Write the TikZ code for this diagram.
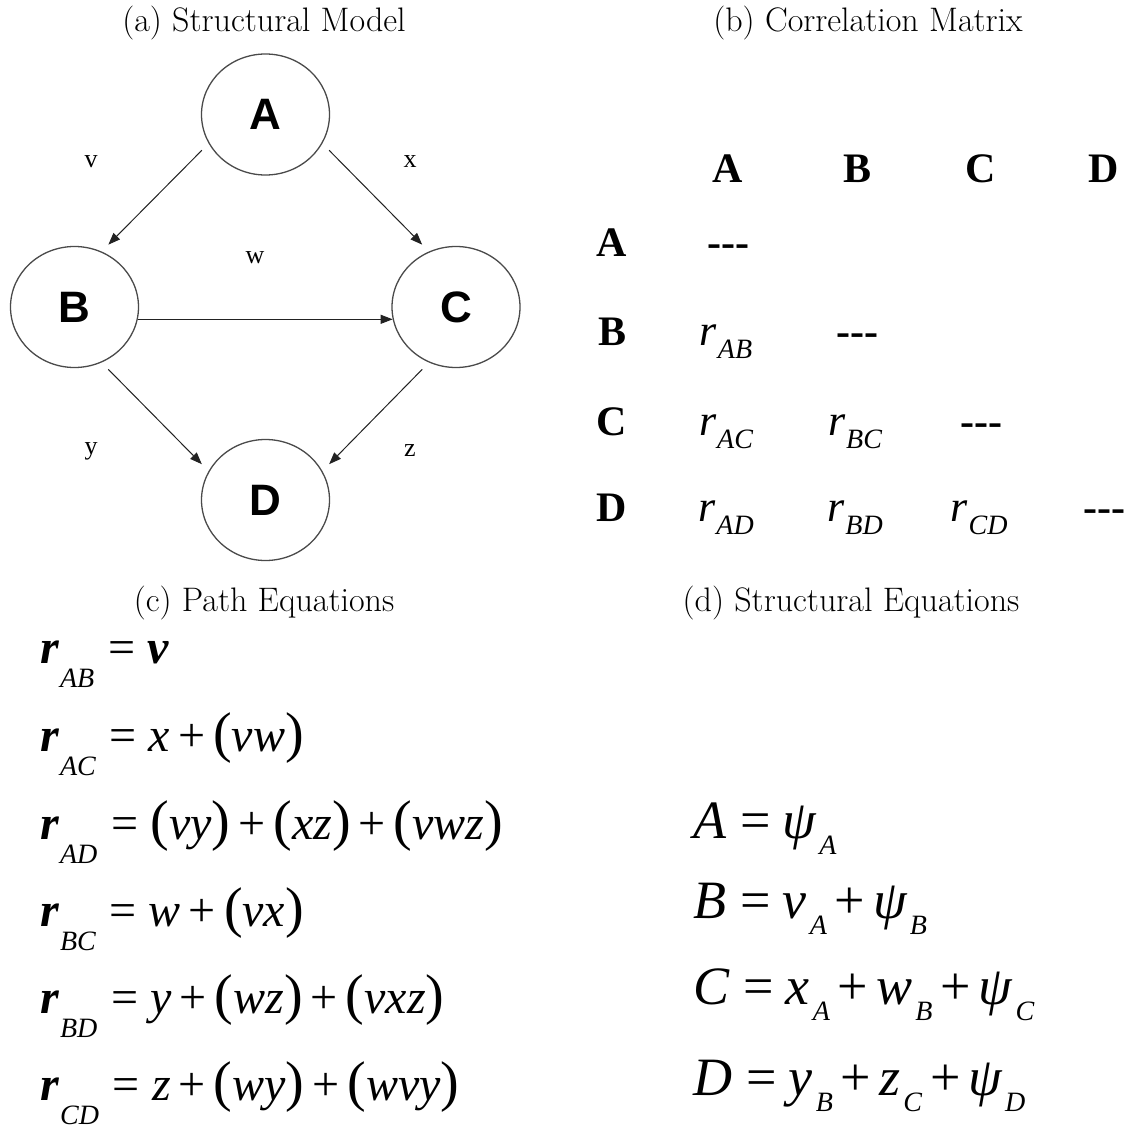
\documentclass[tikz,border=0pt]{standalone}
\usepackage{fontspec}
\usepackage{tikz}
\usetikzlibrary{shapes.geometric,arrows.meta,positioning}
\newfontfamily\timesf{Liberation Serif}[BoldFont={Liberation Serif Bold},
  ItalicFont={Liberation Serif Italic}, BoldItalicFont={Liberation Serif Bold Italic}]
\newfontfamily\arialf{Liberation Sans}[BoldFont={Liberation Sans Bold}]
\definecolor{ringcol}{HTML}{4A4A4A}
\definecolor{linkcol}{HTML}{222222}

% r with a low subscript (path equations / matrix)
\newcommand{\rcoef}[1]{{\bfseries r}\kern0.5pt\raisebox{-12pt}{\fontsize{14}{14}\selectfont #1}}
\newcommand{\rcell}[1]{r\kern0.5pt\raisebox{-6.5pt}{\fontsize{14}{14}\selectfont #1}}
\newcommand{\svar}[2]{#1\kern1.5pt\raisebox{-8pt}{\fontsize{14}{14}\selectfont #2}}
\newcommand{\eqsign}{\hspace{7pt}{\upshape=}\hspace{6pt}}
\newcommand{\plussign}{\hspace{4pt}{\upshape+}\hspace{4pt}}
\newcommand{\lpar}{{\upshape\fontsize{28}{28}\selectfont(}}
\newcommand{\rpar}{{\upshape\fontsize{28}{28}\selectfont)}}
\newcommand{\nodash}{{\bfseries -{}-{}-}}

\begin{document}
\begin{tikzpicture}[x=0.5pt, y=-0.5pt,
  var/.style={ellipse, draw=ringcol, line width=0.65pt, minimum width=64pt,
              minimum height=60.5pt, inner sep=0pt,
              font=\arialf\bfseries\fontsize{22}{22}\selectfont},
  link/.style={-{Triangle[length=6pt,width=4.5pt]}, line width=0.5pt,
               color=linkcol, shorten >=4.8pt, shorten <=4.8pt},
  coef/.style={font=\timesf\fontsize{13}{13}\selectfont},
  subtitle/.style={anchor=base, inner sep=0pt, font=\fontsize{17}{17}\selectfont},
  head/.style={anchor=base, inner sep=0pt, font=\timesf\bfseries\fontsize{21}{21}\selectfont},
  cell/.style={anchor=base, inner sep=0pt, font=\timesf\itshape\fontsize{22}{22}\selectfont},
  peq/.style={anchor=base west, inner sep=0pt, font=\timesf\itshape\fontsize{24}{24}\selectfont},
  seq/.style={anchor=base west, inner sep=0pt, font=\timesf\itshape\fontsize{27}{27}\selectfont}
]
  \path[use as bounding box] (0,0) rectangle (1139,1129);

  % (a) structural model
  \node[subtitle] (capa) at (264,32) {(a) Structural Model};
  \node[var] (A) at (265.5,114.5) {A};
  \node[var] (B) at (74.5,307) {B};
  \node[var] (C) at (456,307) {C};
  \node[var] (D) at (265.5,500) {D};

  \draw[link] (A.207) -- (B.64);
  \draw[link] (A.-27) -- (C.116);
  \draw[link] (B.-64) -- (D.153);
  \draw[link] (C.244) -- (D.27);
  \draw[link, shorten >=0pt, shorten <=0pt] (B.-11) -- (C.191);

  \node[coef] (lv) at (91,162) {v};
  \node[coef] (lx) at (410,162) {x};
  \node[coef] (lw) at (255,258) {w};
  \node[coef] (ly) at (91,451) {y};
  \node[coef] (lz) at (410,451) {z};

  % (b) correlation matrix
  \node[subtitle] (capb) at (868,32) {(b) Correlation Matrix};
  \node[head] (hA) at (728,182) {A};
  \node[head] (hB) at (857,182) {B};
  \node[head] (hC) at (981,182) {C};
  \node[head] (hD) at (1104,182) {D};
  \node[head] (rA) at (612,256) {A};
  \node[head] (rB) at (612,345) {B};
  \node[head] (rC) at (612,435) {C};
  \node[head] (rD) at (612,521) {D};

  \node[head] (mAA) at (728,256) {\nodash};
  \node[cell] (mBA) at (726,345) {\rcell{AB}};
  \node[head] (mBB) at (857,345) {\nodash};
  \node[cell] (mCA) at (726,435) {\rcell{AC}};
  \node[cell] (mCB) at (855,435) {\rcell{BC}};
  \node[head] (mCC) at (981,435) {\nodash};
  \node[cell] (mDA) at (726,521) {\rcell{AD}};
  \node[cell] (mDB) at (855,521) {\rcell{BD}};
  \node[cell] (mDC) at (979,521) {\rcell{CD}};
  \node[head] (mDD) at (1104,521) {\nodash};

  % (c) path equations
  \node[subtitle] (capc) at (264,611) {(c) Path Equations};
  \node[peq] (pAB) at (40,663) {\rcoef{AB}\eqsign{\bfseries v}};
  \node[peq] (pAC) at (40,751) {\rcoef{AC}\eqsign x\plussign\lpar vw\rpar};
  \node[peq] (pAD) at (40,839) {\rcoef{AD}\eqsign\lpar vy\rpar\plussign\lpar xz\rpar\plussign\lpar vwz\rpar};
  \node[peq] (pBC) at (40,926) {\rcoef{BC}\eqsign w\plussign\lpar vx\rpar};
  \node[peq] (pBD) at (40,1013) {\rcoef{BD}\eqsign y\plussign\lpar wz\rpar\plussign\lpar vxz\rpar};
  \node[peq] (pCD) at (40,1100) {\rcoef{CD}\eqsign z\plussign\lpar wy\rpar\plussign\lpar wvy\rpar};

  % (d) structural equations
  \node[subtitle] (capd) at (851,611) {(d) Structural Equations};
  \node[seq] (sA) at (693,838) {A\eqsign\svar{ψ}{A}};
  \node[seq] (sB) at (693,918) {B\eqsign\svar{v}{A}\plussign\svar{ψ}{B}};
  \node[seq] (sC) at (693,1004) {C\eqsign\svar{x}{A}\plussign\svar{w}{B}\plussign\svar{ψ}{C}};
  \node[seq] (sD) at (693,1095) {D\eqsign\svar{y}{B}\plussign\svar{z}{C}\plussign\svar{ψ}{D}};
\end{tikzpicture}
\end{document}
